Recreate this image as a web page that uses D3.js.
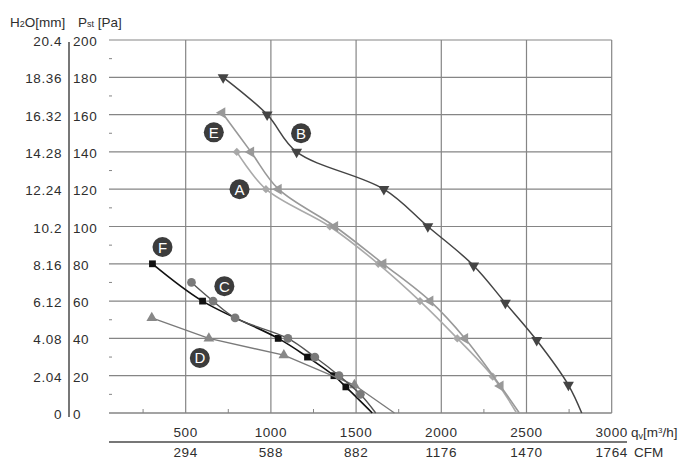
<!DOCTYPE html>
<html><head><meta charset="utf-8">
<script src="https://cdn.jsdelivr.net/npm/d3@7"></script>
<style>
html,body{margin:0;padding:0;background:#fff;}
svg{display:block;font-family:"Liberation Sans",Arial,sans-serif;}
</style></head>
<body>
<svg id="chart" width="700" height="467"></svg>
<script>
// ---- data ----
const xTicks = [500, 1000, 1500, 2000, 2500, 3000];
const cfmLabels = ["294", "588", "882", "1176", "1470", "1764"];
const yTicks = [0, 20, 40, 60, 80, 100, 120, 140, 160, 180, 200];
const h2oLabels = ["0", "2.04", "4.08", "6.12", "8.16", "10.2", "12.24", "14.28", "16.32", "18.36", "20.4"];
const xMinor = [250, 750, 1250, 1750, 2250, 2750];
const yMinor = [10, 30, 50, 70, 90, 110, 130, 150, 170, 190];

const seriesNames = ["A", "B", "C", "D", "E", "F"];
const qA = [800, 971, 1346, 1630, 1875, 2094, 2302, 2442];
const pA = [140, 120, 100, 80, 60, 40, 19.5, 0];
const qB = [720, 978, 1151, 1663, 1921, 2190, 2376, 2560, 2746, 2824];
const pB = [180, 160, 140, 120, 100, 79, 59, 39, 15, 0];
const qC = [534, 661, 790, 1100, 1258, 1400, 1525, 1615];
const pC = [70, 60, 51, 40, 30, 20, 10, 0];
const qD = [301, 636, 1076, 1490, 1725];
const pD = [51, 40, 31, 15, 0];
const qE = [714, 883, 1045, 1376, 1659, 1935, 2139, 2347, 2458];
const pE = [161, 140, 120, 100, 80, 60, 40, 14.5, 0];
const qF = [305, 599, 1043, 1215, 1370, 1440, 1595];
const pF = [80, 60, 40, 30, 20, 14, 0];

// label positions (data coords)
const labelQ = {A: 816, B: 1177, C: 727, D: 583, E: 665, F: 364};
const labelP = {A: 120, B: 150, C: 68, D: 29.5, E: 150.5, F: 89};

// ---- layout ----
const svg = d3.select("#chart");
const x = d3.scaleLinear().domain([50, 3000]).range([109, 611.7]);
const y = d3.scaleLinear().domain([0, 200]).range([413, 40]);
const gridC = "#858585", textC = "#2e2e2e";

const g = svg.append("g");
g.selectAll(".hg").data(yTicks.filter(d => d > 0)).join("line")
  .attr("x1", x(50)).attr("x2", x(3000))
  .attr("y1", d => y(d)).attr("y2", d => y(d))
  .attr("stroke", gridC).attr("stroke-width", 1.2);
g.selectAll(".vg").data(xTicks).join("line")
  .attr("x1", d => x(d)).attr("x2", d => x(d))
  .attr("y1", y(0)).attr("y2", y(200))
  .attr("stroke", gridC).attr("stroke-width", 1.2);
g.append("line").attr("x1", x(50)).attr("x2", x(3000)).attr("y1", y(0)).attr("y2", y(0))
  .attr("stroke", gridC).attr("stroke-width", 1.3);
g.selectAll(".xm").data(xMinor).join("line")
  .attr("x1", d => x(d)).attr("x2", d => x(d)).attr("y1", y(0)).attr("y2", y(0) - 4)
  .attr("stroke", gridC).attr("stroke-width", 1);
g.selectAll(".ym").data(yMinor).join("line")
  .attr("x1", x(50)).attr("x2", x(50) + 3).attr("y1", d => y(d)).attr("y2", d => y(d))
  .attr("stroke", gridC).attr("stroke-width", 1);

const fs = "13.5px";
g.selectAll(".h2o").data(yTicks).join("text")
  .attr("x", 62).attr("y", d => y(d) + 6)
  .attr("text-anchor", "end").attr("font-size", fs).attr("letter-spacing", "0.6px")
  .attr("fill", textC).text((d, i) => h2oLabels[i]);
g.selectAll(".pa").data(yTicks).join("text")
  .attr("x", 73).attr("y", d => y(d) + 6)
  .attr("text-anchor", "start").attr("font-size", fs).attr("letter-spacing", "0.6px")
  .attr("fill", textC).text(d => d);
g.append("line").attr("x1", 69).attr("x2", 69).attr("y1", y(200) + 2).attr("y2", y(0) + 4)
  .attr("stroke", "#777").attr("stroke-width", 2);

const h1 = g.append("text").attr("x", 10).attr("y", 27).attr("font-size", fs).attr("fill", textC);
h1.append("tspan").text("H");
h1.append("tspan").attr("font-size", "9px").text("2");
h1.append("tspan").text("O[mm]");
const h2 = g.append("text").attr("x", 78).attr("y", 27).attr("font-size", fs).attr("fill", textC);
h2.append("tspan").text("P");
h2.append("tspan").attr("font-size", "9px").text("st");
h2.append("tspan").text(" [Pa]");

g.selectAll(".xl").data(xTicks).join("text")
  .attr("x", d => x(d)).attr("y", 437)
  .attr("text-anchor", "middle").attr("font-size", fs).attr("letter-spacing", "0.6px")
  .attr("fill", textC).text(d => d);
g.selectAll(".cl").data(xTicks).join("text")
  .attr("x", d => x(d)).attr("y", 457)
  .attr("text-anchor", "middle").attr("font-size", fs).attr("letter-spacing", "0.6px")
  .attr("fill", textC).text((d, i) => cfmLabels[i]);
g.append("line").attr("x1", x(50)).attr("x2", 627).attr("y1", 442).attr("y2", 442)
  .attr("stroke", "#777").attr("stroke-width", 2);
const qv = g.append("text").attr("x", 631).attr("y", 437).attr("font-size", fs).attr("fill", textC);
qv.append("tspan").text("q");
qv.append("tspan").attr("font-size", "9px").attr("dy", 2).text("v");
qv.append("tspan").attr("dy", -2).text("[m");
qv.append("tspan").attr("font-size", "8px").attr("dy", -4).text("3");
qv.append("tspan").attr("dy", 4).text("/h]");
g.append("text").attr("x", 634).attr("y", 457).attr("font-size", fs).attr("fill", textC).text("CFM");

const series = [
  {name: "F", q: qF, p: pF, line: "#111", mark: "#111", sym: d3.symbolSquare, size: 46, rot: 0, curve: d3.curveCatmullRom, w: 1.6},
  {name: "D", q: qD, p: pD, line: "#7a7a7a", mark: "#888", sym: d3.symbolTriangle, size: 50, rot: 0, curve: d3.curveLinear, w: 1.4},
  {name: "C", q: qC, p: pC, line: "#555", mark: "#7a7a7a", sym: d3.symbolCircle, size: 60, rot: 0, curve: d3.curveCatmullRom, w: 1.4},
  {name: "A", q: qA, p: pA, line: "#aaa", mark: "#a8a8a8", sym: d3.symbolSquare, size: 34, rot: 45, curve: d3.curveCatmullRom, w: 1.6},
  {name: "E", q: qE, p: pE, line: "#999", mark: "#999", sym: d3.symbolTriangle, size: 52, rot: -90, curve: d3.curveCatmullRom, w: 1.6},
  {name: "B", q: qB, p: pB, line: "#444", mark: "#444", sym: d3.symbolTriangle, size: 52, rot: 180, curve: d3.curveCatmullRom, w: 1.5}
];

series.forEach(s => {
  const pts = s.q.map((q, i) => ({q, p: s.p[i]}));
  const line = d3.line().x(d => x(d.q)).y(d => y(d.p)).curve(s.curve);
  g.append("path").attr("d", line(pts)).attr("fill", "none")
    .attr("stroke", s.line).attr("stroke-width", s.w);
  g.selectAll(null).data(pts.filter(d => d.p > 0)).join("path")
    .attr("d", d3.symbol().type(s.sym).size(s.size))
    .attr("transform", d => `translate(${x(d.q)},${y(d.p)}) rotate(${s.rot})`)
    .attr("fill", s.mark);
});

seriesNames.forEach(n => {
  const cx = x(labelQ[n]), cy = y(labelP[n]);
  g.append("circle").attr("cx", cx).attr("cy", cy).attr("r", 10).attr("fill", "#3c3c3c");
  g.append("text").attr("x", cx).attr("y", cy + 5.5).attr("text-anchor", "middle")
    .attr("font-size", "15px").attr("fill", "#fff").text(n);
});
</script>
</body></html>
